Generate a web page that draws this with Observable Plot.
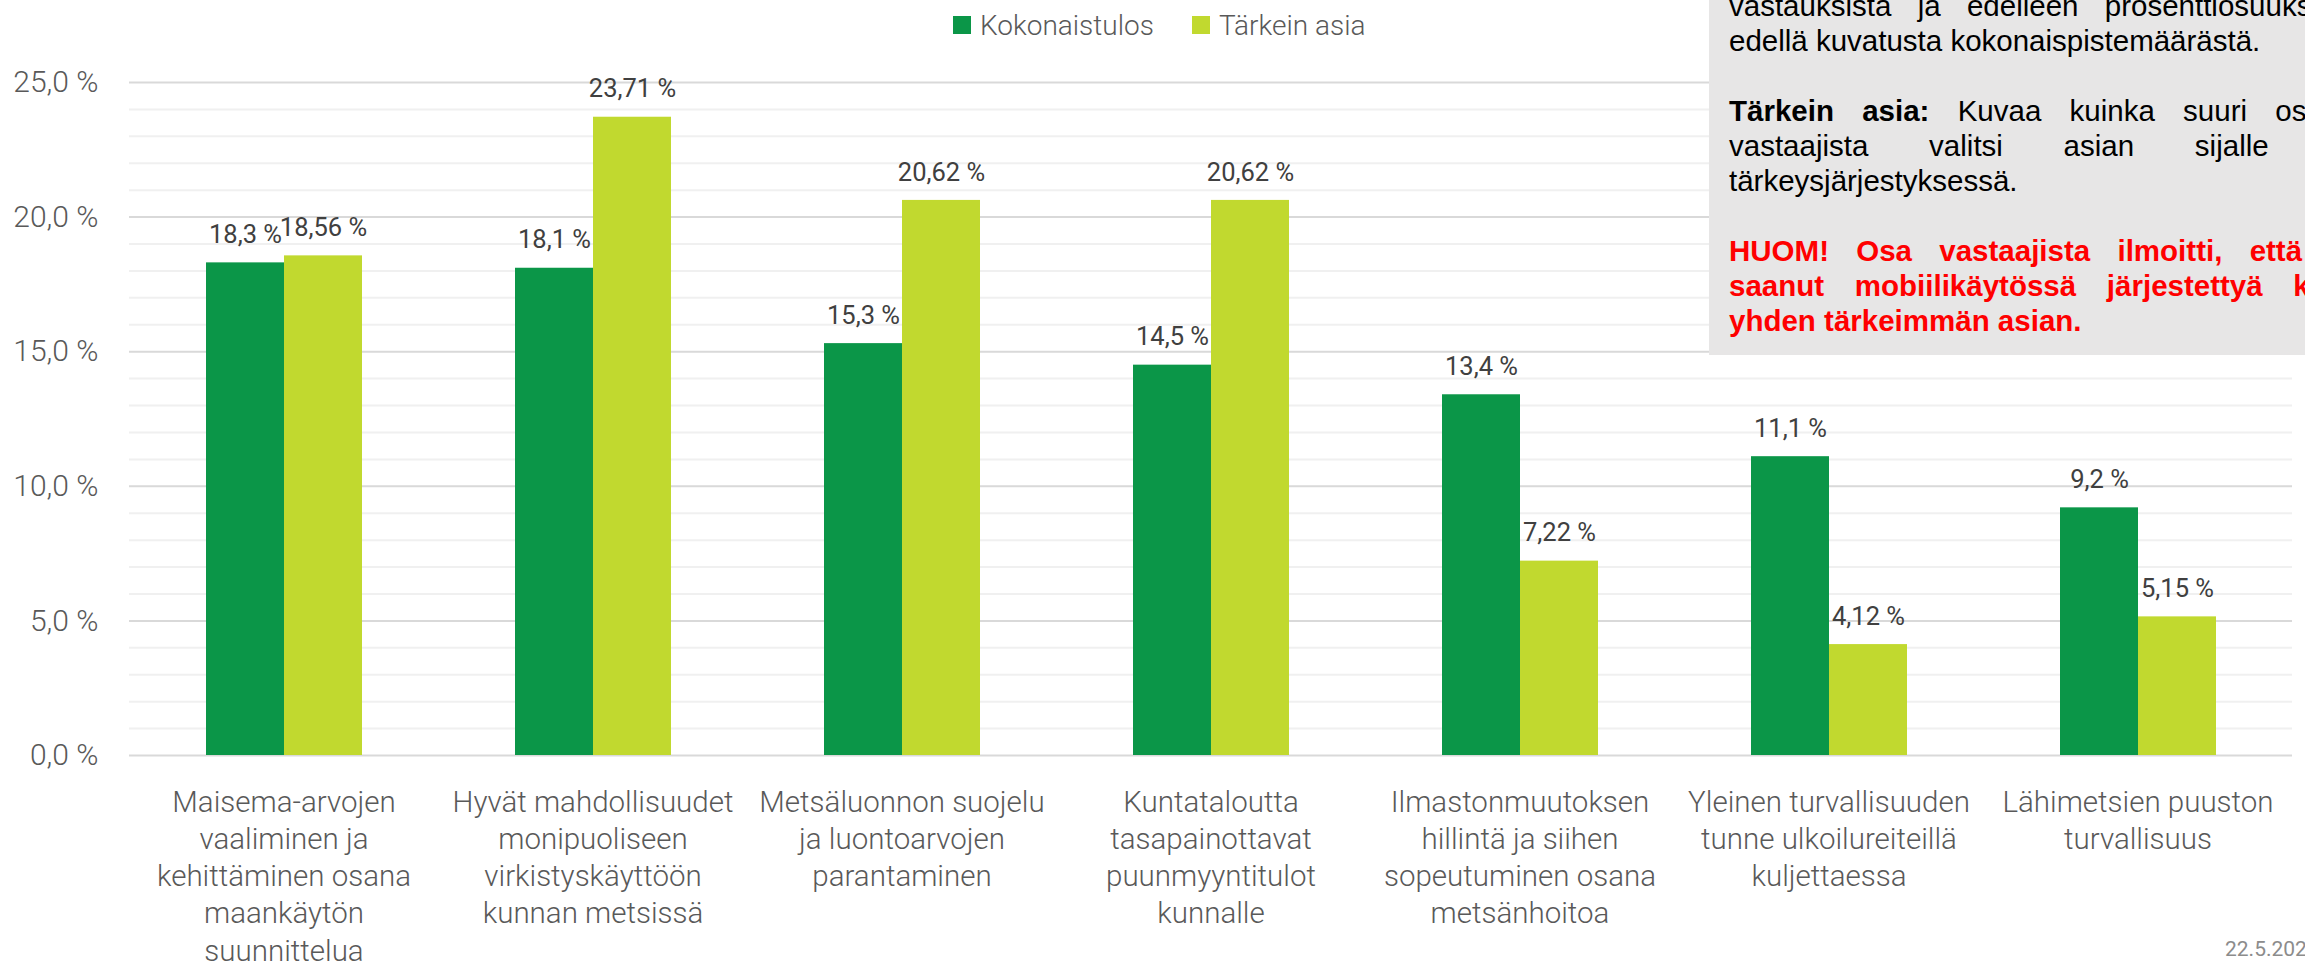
<!DOCTYPE html>
<html>
<head>
<meta charset="utf-8">
<script src="https://cdn.jsdelivr.net/npm/d3@7"></script>
<script src="https://cdn.jsdelivr.net/npm/@observablehq/plot@0.6"></script>
<style>
html, body { margin: 0; padding: 0; background: #fff; }
body { width: 2305px; height: 965px; overflow: hidden; position: relative; font-family: Roboto, sans-serif; }
#legend { height: 50px; box-sizing: border-box; padding-left: 953px; display: flex; align-items: center; }
#legend > div { margin: 0 !important; font-family: Roboto, sans-serif !important; font-size: 28px !important; font-weight: 300; color: #595959 !important; min-height: 0 !important; }
#legend span { margin-right: 38px !important; }
#legend span svg { margin-right: 9px !important; }
#chart svg { display: block; }
#note { position: absolute; left: 1709px; top: 0; width: 596px; height: 355px; background: #E7E6E6; overflow: hidden; z-index: 2; }
#note .txt { position: absolute; left: 20px; top: -12px; width: 625px; font-family: "Liberation Sans", Arial, sans-serif; font-size: 29.5px; line-height: 35px; color: #000; }
#note .j { text-align: justify; text-align-last: justify; }
#note .l { text-align: left; }
#note .gap { height: 35px; }
#note .red { color: #FF0000; font-weight: bold; }
#date { position: absolute; left: 2225px; top: 936px; font-family: Roboto, sans-serif; font-size: 21px; line-height: 26px; color: #8C8C8C; white-space: nowrap; }
</style>
</head>
<body>
<div id="legend"></div>
<div id="chart"></div>
<div id="note"><div class="txt">
  <div class="j">vastauksista ja edelleen prosenttiosuuksiksi</div>
  <div class="l">edellä kuvatusta kokonaispistemäärästä.</div>
  <div class="gap"></div>
  <div class="j"><b>Tärkein asia:</b> Kuvaa kuinka suuri osuus</div>
  <div class="j">vastaajista valitsi asian sijalle 1.</div>
  <div class="l">tärkeysjärjestyksessä.</div>
  <div class="gap"></div>
  <div class="j red">HUOM! Osa vastaajista ilmoitti, että ei</div>
  <div class="j red">saanut mobiilikäytössä järjestettyä kuin</div>
  <div class="l red">yhden tärkeimmän asian.</div>
</div></div>
<div id="date">22.5.202</div>
<script>
const series = ["Kokonaistulos", "Tärkein asia"];
const seriesColors = ["#0B9648", "#C1D92F"];
const categories = [
  "Maisema-arvojen vaaliminen ja kehittäminen osana maankäytön suunnittelua",
  "Hyvät mahdollisuudet monipuoliseen virkistyskäyttöön kunnan metsissä",
  "Metsäluonnon suojelu ja luontoarvojen parantaminen",
  "Kuntataloutta tasapainottavat puunmyyntitulot kunnalle",
  "Ilmastonmuutoksen hillintä ja siihen sopeutuminen osana metsänhoitoa",
  "Yleinen turvallisuuden tunne ulkoilureiteillä kuljettaessa",
  "Lähimetsien puuston turvallisuus"
];
const categoryTickLabels = [
  "Maisema-arvojen\nvaaliminen ja\nkehittäminen osana\nmaankäytön\nsuunnittelua",
  "Hyvät mahdollisuudet\nmonipuoliseen\nvirkistyskäyttöön\nkunnan metsissä",
  "Metsäluonnon suojelu\nja luontoarvojen\nparantaminen",
  "Kuntataloutta\ntasapainottavat\npuunmyyntitulot\nkunnalle",
  "Ilmastonmuutoksen\nhillintä ja siihen\nsopeutuminen osana\nmetsänhoitoa",
  "Yleinen turvallisuuden\ntunne ulkoilureiteillä\nkuljettaessa",
  "Lähimetsien puuston\nturvallisuus"
];
const kokonaistulos = [18.3, 18.1, 15.3, 14.5, 13.4, 11.1, 9.2];
const tarkeinAsia = [18.56, 23.71, 20.62, 20.62, 7.22, 4.12, 5.15];
const seriesDecimals = [1, 2];
const majorTicks = [0, 5, 10, 15, 20, 25];
const minorTicks = [1, 2, 3, 4, 6, 7, 8, 9, 11, 12, 13, 14, 16, 17, 18, 19, 21, 22, 23, 24];

const fmt = (v, d) => v.toFixed(d).replace(".", ",") + " %";
const rows = categories.flatMap((c, i) => [
  {category: c, series: series[0], value: kokonaistulos[i], label: fmt(kokonaistulos[i], seriesDecimals[0])},
  {category: c, series: series[1], value: tarkeinAsia[i], label: fmt(tarkeinAsia[i], seriesDecimals[1])}
]);
const tickMap = new Map(categories.map((c, i) => [c, categoryTickLabels[i]]));

const plot = Plot.plot({
  width: 2305,
  height: 915,
  marginTop: 32,
  marginBottom: 210,
  marginLeft: 128,
  marginRight: 13,
  style: {fontFamily: "Roboto, sans-serif", background: "transparent", overflow: "visible"},
  fx: {domain: categories, padding: 0, label: null, axis: null},
  x: {domain: series, paddingInner: 0, paddingOuter: 0.98, axis: null},
  y: {domain: [0, 25], axis: null},
  color: {domain: series, range: seriesColors},
  marks: [
    Plot.ruleY(minorTicks, {stroke: "#F0F0F0", strokeWidth: 2}),
    Plot.ruleY(majorTicks, {stroke: "#D9D9D9", strokeWidth: 2}),
    Plot.barY(rows, {fx: "category", x: "series", y: "value", fill: "series"}),
    Plot.text(rows, {fx: "category", x: "series", y: "value", text: "label", dy: -28, fontSize: 25.5, fill: "#404040"}),
    Plot.axisY(majorTicks, {tickSize: 0, tickPadding: 31, fontSize: 30, fontWeight: 300, fill: "#595959", tickFormat: d => fmt(d, 1), label: null}),
    Plot.axisFx({anchor: "bottom", tickSize: 0, tickPadding: 30, fontSize: 29.5, fontWeight: 300, lineHeight: 1.26, fill: "#595959", tickFormat: d => tickMap.get(d), label: null})
  ]
});
document.getElementById("chart").appendChild(plot);
const lg = plot.legend("color", {swatchSize: 18});
document.getElementById("legend").appendChild(lg);
</script>
</body>
</html>
